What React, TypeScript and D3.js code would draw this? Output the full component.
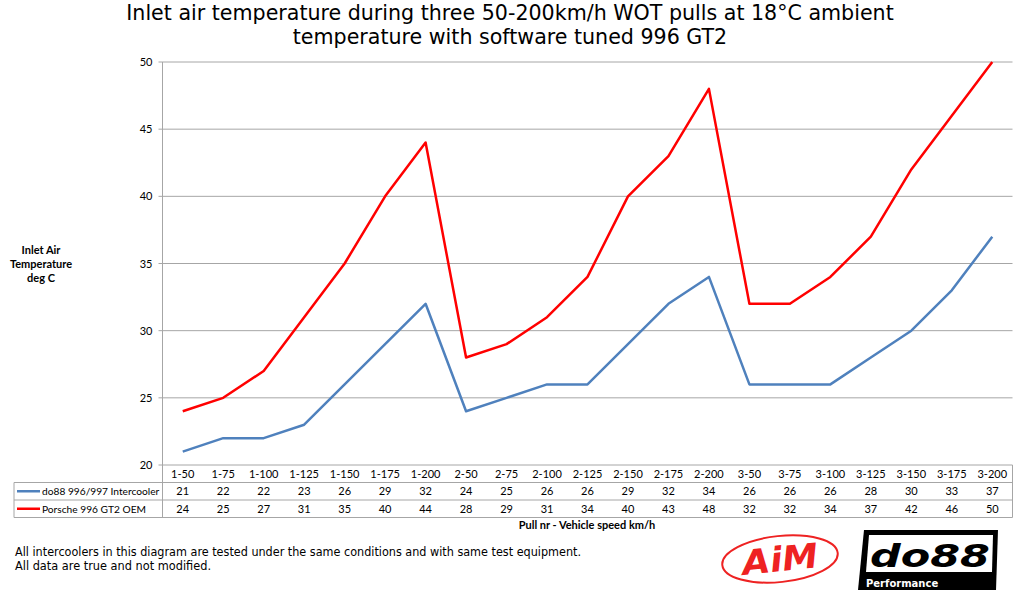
import React from "react";
import * as d3 from "d3";

const categories = ["1-50","1-75","1-100","1-125","1-150","1-175","1-200","2-50","2-75","2-100","2-125","2-150","2-175","2-200","3-50","3-75","3-100","3-125","3-150","3-175","3-200"];
const do88Values = [21,22,22,23,26,29,32,24,25,26,26,29,32,34,26,26,26,28,30,33,37];
const oemValues = [24,25,27,31,35,40,44,28,29,31,34,40,43,48,32,32,34,37,42,46,50];
const yTicks = [20,25,30,35,40,45,50];
const seriesNames = ["do88 996/997 Intercooler", "Porsche 996 GT2 OEM"];
const seriesColors = ["#4f81bd", "#ff0000"];

const W = 1024, H = 602;
const L = 162.5, R = 1012.5, T = 62, B = 465;
const rowH = 17.5;

export default function App() {
  const x = d3.scaleBand<string>().domain(categories).range([L, R]).padding(0);
  const bw = x.bandwidth();
  const cx = (c: string) => (x(c) as number) + bw / 2;
  const y = d3.scaleLinear().domain([20, 50]).range([B, T]);
  const series = [do88Values, oemValues];
  const line = d3.line<number>().x((_, i) => cx(categories[i])).y(d => y(d));
  const grid = "#a6a6a6";
  const tableFont = "Lato, 'Open Sans', sans-serif";
  const r1 = B + rowH;
  const r2 = r1 + rowH;
  const r3 = r2 + rowH;
  return (
    <svg width={W} height={H} style={{ position: "absolute", left: 0, top: 0, background: "#fff" }}>
      <rect width={W} height={H} fill="#fff" />
      <g fontFamily="'DejaVu Sans', Verdana, sans-serif" fontSize={20.6} fill="#000" textAnchor="middle">
        <text x={510} y={20}>Inlet air temperature during three 50-200km/h WOT pulls at 18°C ambient</text>
        <text x={510} y={44}>temperature with software tuned 996 GT2</text>
      </g>
      {yTicks.filter(t => t !== 20).map(t => (
        <line key={t} x1={L - 4} x2={R} y1={y(t)} y2={y(t)} stroke={grid} strokeWidth={1} />
      ))}
      <line x1={L - 4} x2={L} y1={B} y2={B} stroke={grid} />
      {yTicks.map(t => (
        <text key={t} x={L - 10} y={y(t) + 4} textAnchor="end" fontFamily={tableFont} fontSize={11}>{t}</text>
      ))}
      <line x1={L} x2={L} y1={T} y2={r3} stroke={grid} />
      <line x1={L} x2={R} y1={B} y2={B} stroke={grid} />
      <line x1={14} x2={R} y1={r1} y2={r1} stroke={grid} />
      <line x1={14} x2={R} y1={r2} y2={r2} stroke={grid} />
      <line x1={14} x2={R} y1={r3} y2={r3} stroke={grid} />
      <line x1={14} x2={14} y1={r1} y2={r3} stroke={grid} />
      <line x1={R} x2={R} y1={B} y2={r3} stroke={grid} />
      <g fontFamily={tableFont} fontSize={11} textAnchor="middle" fill="#000">
        {categories.map(c => (
          <text key={c} x={cx(c)} y={B + 12.5}>{c}</text>
        ))}
        {series.map((vals, si) => vals.map((v, i) => (
          <text key={si + "-" + i} x={cx(categories[i])} y={r1 + rowH * si + 12.5}>{v}</text>
        )))}
      </g>
      {seriesNames.map((n, si) => (
        <g key={n}>
          <line x1={17} x2={40} y1={r1 + rowH * si + rowH / 2} y2={r1 + rowH * si + rowH / 2} stroke={seriesColors[si]} strokeWidth={2.5} />
          <text x={42} y={r1 + rowH * si + 12.5} fontFamily={tableFont} fontSize={10.2}>{n}</text>
        </g>
      ))}
      {series.map((vals, si) => (
        <path key={si} d={line(vals) as string} fill="none" stroke={seriesColors[si]} strokeWidth={2.5} strokeLinejoin="round" />
      ))}
      <text x={587} y={529} textAnchor="middle" fontFamily={tableFont} fontWeight="bold" fontSize={11}>Pull nr - Vehicle speed km/h</text>
      <g fontFamily={tableFont} fontWeight="bold" fontSize={11} textAnchor="middle">
        <text x={41} y={254}>Inlet Air</text>
        <text x={41} y={268}>Temperature</text>
        <text x={41} y={282}>deg C</text>
      </g>
      <g fontFamily="'DejaVu Sans', Tahoma, sans-serif" fontSize={11.5} fill="#000">
        <text x={15} y={556} textLength={566} lengthAdjust="spacingAndGlyphs">All intercoolers in this diagram are tested under the same conditions and with same test equipment.</text>
        <text x={15} y={570} textLength={196} lengthAdjust="spacingAndGlyphs">All data are true and not modified.</text>
      </g>
      <g transform="translate(780,559) rotate(-6)">
        <ellipse cx={0} cy={0} rx={58} ry={23} fill="none" stroke="#ee2222" strokeWidth={2} />
        <text x={0} y={12} textAnchor="middle" fontFamily="'DejaVu Sans', sans-serif" fontWeight="bold" fontStyle="italic" fontSize={34} fill="#ee2222" textLength={76} lengthAdjust="spacingAndGlyphs">AiM</text>
      </g>
      <g>
        <polygon points="864,530 998,530 996,590 858,590" fill="#000" />
        <polygon points="869,535 993,535 992,572 866,572" fill="#fff" />
        <text x={870} y={567} fontFamily="'DejaVu Sans', sans-serif" fontWeight="bold" fontStyle="italic" fontSize={32} fill="#000" textLength={120} lengthAdjust="spacingAndGlyphs">do88</text>
        <text x={866} y={587} fontFamily="'DejaVu Sans', sans-serif" fontWeight="bold" fontSize={10} fill="#fff">Performance</text>
      </g>
    </svg>
  );
}
